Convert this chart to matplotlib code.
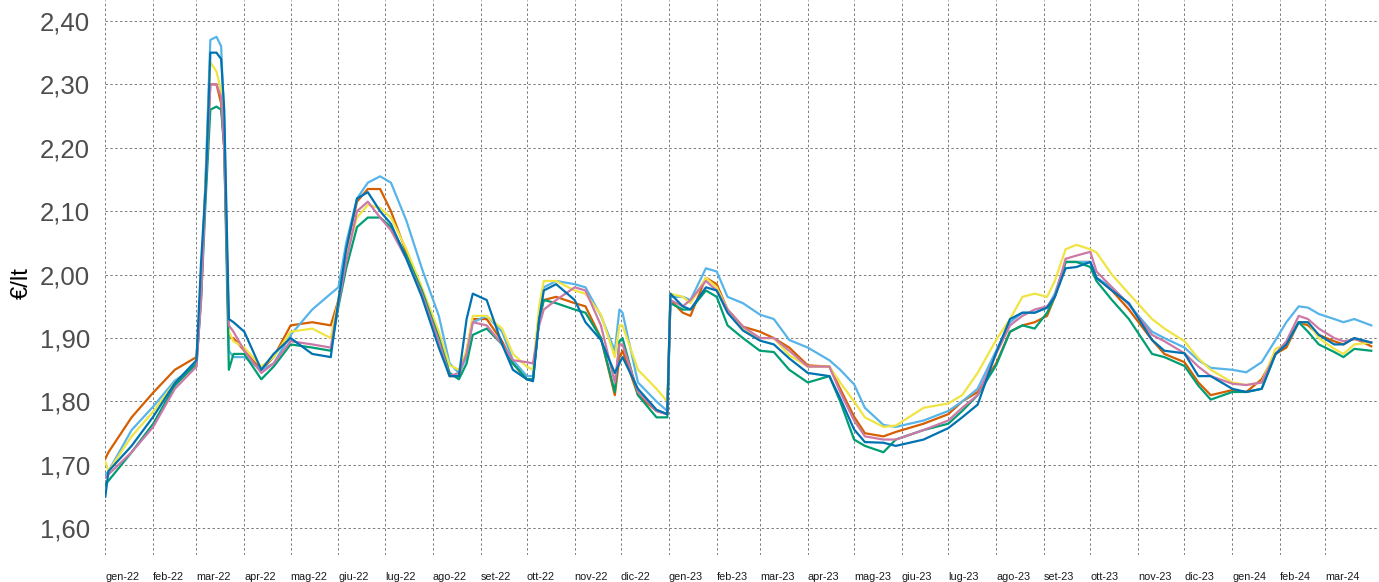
import pandas as pd
import matplotlib
matplotlib.use("Agg")
import matplotlib.pyplot as plt

plt.rcParams['font.family'] = ['Liberation Sans', 'DejaVu Sans']

dates = ["2022-01-01", "2022-01-03", "2022-01-18", "2022-02-01", "2022-02-15", "2022-03-01",
         "2022-03-04", "2022-03-07", "2022-03-10", "2022-03-14", "2022-03-17", "2022-03-19",
         "2022-03-22", "2022-03-25", "2022-04-01", "2022-04-12", "2022-04-20", "2022-05-01",
         "2022-05-15", "2022-05-27", "2022-06-01", "2022-06-06", "2022-06-13", "2022-06-20",
         "2022-06-28", "2022-07-05", "2022-07-15", "2022-07-25", "2022-08-05", "2022-08-12",
         "2022-08-18", "2022-08-23", "2022-08-27", "2022-09-05", "2022-09-15", "2022-09-22",
         "2022-10-01", "2022-10-05", "2022-10-09", "2022-10-12", "2022-10-20", "2022-11-01",
         "2022-11-08", "2022-11-18", "2022-11-27", "2022-11-30", "2022-12-02", "2022-12-12",
         "2022-12-24", "2022-12-31", "2023-01-02", "2023-01-10", "2023-01-15", "2023-01-25",
         "2023-02-01", "2023-02-08", "2023-02-18", "2023-03-01", "2023-03-10", "2023-03-20",
         "2023-04-01", "2023-04-15", "2023-04-22", "2023-05-01", "2023-05-08", "2023-05-20",
         "2023-05-28", "2023-06-15", "2023-07-01", "2023-07-10", "2023-07-20", "2023-08-01",
         "2023-08-10", "2023-08-18", "2023-08-26", "2023-09-03", "2023-09-08", "2023-09-15",
         "2023-09-22", "2023-10-01", "2023-10-05", "2023-10-15", "2023-10-26", "2023-11-10",
         "2023-11-18", "2023-12-01", "2023-12-10", "2023-12-18", "2024-01-01", "2024-01-10",
         "2024-01-20", "2024-01-29", "2024-02-05", "2024-02-13", "2024-02-19", "2024-02-26",
         "2024-03-07", "2024-03-13", "2024-03-20", "2024-03-31"]

orange = [1.71, 1.72, 1.775, 1.814, 1.85, 1.87,
          1.97, 2.15, 2.30, 2.30, 2.27, 2.20,
          1.90, 1.90, 1.88, 1.85, 1.87, 1.92,
          1.925, 1.92, 1.96, 2.04, 2.115, 2.135,
          2.135, 2.10, 2.035, 1.975, 1.90, 1.84,
          1.84, 1.88, 1.93, 1.93, 1.895, 1.86,
          1.835, 1.835, 1.93, 1.96, 1.965, 1.955,
          1.95, 1.90, 1.81, 1.87, 1.88, 1.81,
          1.785, 1.78, 1.96, 1.94, 1.935, 1.995,
          1.985, 1.945, 1.918, 1.91, 1.90, 1.885,
          1.857, 1.855, 1.82, 1.776, 1.75, 1.745,
          1.752, 1.765, 1.78, 1.80, 1.815, 1.86,
          1.91, 1.92, 1.925, 1.935, 1.965, 2.02,
          2.02, 2.02, 1.995, 1.975, 1.945, 1.897,
          1.875, 1.862, 1.83, 1.81, 1.818, 1.815,
          1.835, 1.875, 1.885, 1.925, 1.92, 1.905,
          1.895, 1.89, 1.90, 1.887]

light_blue = [1.685, 1.69, 1.755, 1.792, 1.833, 1.855,
              1.97, 2.16, 2.37, 2.375, 2.36, 2.24,
              1.88, 1.87, 1.87, 1.85, 1.86, 1.905,
              1.945, 1.97, 1.98, 2.05, 2.12, 2.145,
              2.155, 2.145, 2.085, 2.01, 1.935, 1.86,
              1.845, 1.87, 1.925, 1.935, 1.91, 1.865,
              1.84, 1.84, 1.93, 1.98, 1.99, 1.985,
              1.98, 1.935, 1.88, 1.945, 1.94, 1.83,
              1.80, 1.785, 1.965, 1.965, 1.96, 2.01,
              2.005, 1.965, 1.955, 1.937, 1.93, 1.897,
              1.885, 1.865, 1.85, 1.827, 1.79, 1.763,
              1.76, 1.77, 1.785, 1.80, 1.82, 1.88,
              1.925, 1.94, 1.94, 1.948, 1.97, 2.02,
              2.02, 2.02, 1.995, 1.98, 1.953, 1.91,
              1.90, 1.885, 1.865, 1.853, 1.85, 1.846,
              1.862, 1.897, 1.925, 1.95, 1.948, 1.938,
              1.93, 1.925, 1.93, 1.92]

yellow = [1.705, 1.69, 1.745, 1.784, 1.83, 1.86,
          1.98, 2.15, 2.335, 2.32, 2.29, 2.22,
          1.91, 1.895, 1.885, 1.855, 1.87, 1.91,
          1.915, 1.90, 1.96, 2.03, 2.09, 2.11,
          2.105, 2.09, 2.04, 1.98, 1.91, 1.857,
          1.85, 1.88, 1.935, 1.935, 1.915, 1.875,
          1.855, 1.85, 1.95, 1.99, 1.99, 1.975,
          1.97, 1.937, 1.87, 1.92, 1.92, 1.85,
          1.82, 1.80, 1.97, 1.965, 1.955, 1.995,
          1.98, 1.945, 1.915, 1.90, 1.90, 1.873,
          1.855, 1.855, 1.83, 1.80, 1.775, 1.76,
          1.762, 1.79, 1.797, 1.81, 1.845, 1.897,
          1.93, 1.965, 1.97, 1.965, 1.99, 2.04,
          2.047, 2.04, 2.035, 2.00, 1.97, 1.93,
          1.915, 1.895, 1.868, 1.85, 1.83, 1.826,
          1.83, 1.883, 1.89, 1.925, 1.925, 1.90,
          1.883, 1.875, 1.89, 1.893]

green = [1.67, 1.675, 1.72, 1.765, 1.825, 1.86,
         1.96, 2.12, 2.26, 2.265, 2.26, 2.20,
         1.85, 1.875, 1.875, 1.835, 1.855, 1.89,
         1.885, 1.88, 1.95, 2.01, 2.075, 2.09,
         2.09, 2.075, 2.03, 1.975, 1.90, 1.845,
         1.835, 1.86, 1.905, 1.915, 1.89, 1.86,
         1.835, 1.835, 1.93, 1.96, 1.955, 1.945,
         1.94, 1.90, 1.815, 1.895, 1.90, 1.81,
         1.775, 1.775, 1.955, 1.945, 1.945, 1.975,
         1.965, 1.92, 1.90, 1.88, 1.878, 1.85,
         1.83, 1.84, 1.80, 1.74, 1.73, 1.72,
         1.74, 1.755, 1.765, 1.785, 1.81, 1.857,
         1.91, 1.92, 1.915, 1.94, 1.965, 2.02,
         2.02, 2.012, 1.99, 1.96, 1.93, 1.875,
         1.87, 1.856, 1.825, 1.803, 1.815, 1.815,
         1.82, 1.875, 1.89, 1.925, 1.91, 1.89,
         1.878, 1.87, 1.883, 1.88]

pink = [1.68, 1.685, 1.72, 1.76, 1.82, 1.855,
        1.96, 2.14, 2.30, 2.30, 2.28, 2.20,
        1.92, 1.91, 1.88, 1.845, 1.86, 1.895,
        1.89, 1.885, 1.955, 2.02, 2.10, 2.115,
        2.09, 2.07, 2.025, 1.97, 1.895, 1.84,
        1.845, 1.875, 1.925, 1.92, 1.89, 1.865,
        1.862, 1.86, 1.92, 1.945, 1.96, 1.98,
        1.975, 1.92, 1.83, 1.89, 1.89, 1.815,
        1.785, 1.78, 1.96, 1.95, 1.96, 1.99,
        1.975, 1.945, 1.918, 1.90, 1.90, 1.88,
        1.855, 1.855, 1.815, 1.77, 1.745, 1.74,
        1.74, 1.755, 1.77, 1.79, 1.81, 1.875,
        1.92, 1.935, 1.945, 1.95, 1.965, 2.025,
        2.03, 2.036, 2.005, 1.98, 1.953, 1.905,
        1.895, 1.876, 1.855, 1.84, 1.828, 1.826,
        1.83, 1.875, 1.895, 1.935, 1.93, 1.915,
        1.90, 1.895, 1.898, 1.893]

dark_blue = [1.65, 1.69, 1.73, 1.776, 1.829, 1.865,
             2.02, 2.14, 2.35, 2.35, 2.34, 2.26,
             1.93, 1.925, 1.91, 1.85, 1.875, 1.90,
             1.875, 1.87, 1.96, 2.04, 2.12, 2.13,
             2.10, 2.08, 2.025, 1.965, 1.885, 1.84,
             1.84, 1.93, 1.97, 1.96, 1.89, 1.85,
             1.835, 1.832, 1.93, 1.975, 1.985, 1.96,
             1.925, 1.897, 1.845, 1.86, 1.87, 1.82,
             1.787, 1.78, 1.97, 1.95, 1.945, 1.98,
             1.975, 1.94, 1.912, 1.896, 1.89, 1.868,
             1.845, 1.84, 1.805, 1.756, 1.736, 1.735,
             1.73, 1.74, 1.758, 1.775, 1.795, 1.877,
             1.93, 1.94, 1.94, 1.948, 1.965, 2.01,
             2.012, 2.02, 1.995, 1.975, 1.955, 1.897,
             1.88, 1.876, 1.84, 1.84, 1.82, 1.815,
             1.82, 1.875, 1.89, 1.925, 1.925, 1.905,
             1.89, 1.89, 1.90, 1.893]

month_labels = ["gen-22", "feb-22", "mar-22", "apr-22", "mag-22", "giu-22", "lug-22",
                "ago-22", "set-22", "ott-22", "nov-22", "dic-22",
                "gen-23", "feb-23", "mar-23", "apr-23", "mag-23", "giu-23", "lug-23",
                "ago-23", "set-23", "ott-23", "nov-23", "dic-23",
                "gen-24", "feb-24", "mar-24"]
y_ticks = [1.60, 1.70, 1.80, 1.90, 2.00, 2.10, 2.20, 2.30, 2.40]

x = pd.to_datetime(dates)
month_starts = pd.date_range("2022-01-01", periods=len(month_labels), freq="MS")

fig = plt.figure(figsize=(13.79, 5.82), dpi=100)
ax = fig.add_axes([0.0764, 0.0464, 0.9236, 0.9536])

series = [(orange, "#D55E00"), (light_blue, "#56B4E9"), (yellow, "#F0E442"),
          (green, "#009E73"), (pink, "#CC79A7"), (dark_blue, "#0072B2")]
for vals, col in series:
    ax.plot(x, vals, color=col, lw=1.6, solid_joinstyle="round")

ax.set_xlim(pd.Timestamp("2022-01-01"), pd.Timestamp("2024-04-05"))
ax.set_ylim(1.558, 2.433)

ax.set_yticks(y_ticks)
ax.set_yticklabels([f"{v:.2f}".replace(".", ",") for v in y_ticks])
ax.set_xticks(month_starts)
ax.set_xticklabels(month_labels, ha="left")

ax.tick_params(axis="y", length=0, pad=11, labelsize=18.5, labelcolor="#4D4D4D")
ax.tick_params(axis="x", length=0, pad=12, labelsize=7.8, labelcolor="#1a1a1a")

ax.grid(True, color="#7a7a7a", lw=0.7, linestyle=(0, (2.5, 2.5)))
ax.set_axisbelow(True)
for s in ax.spines.values():
    s.set_visible(False)

fig.text(0.016, 0.514, "€/lt", rotation=90, fontsize=17, ha="center", va="center")

fig.savefig("out.png", dpi=100)
